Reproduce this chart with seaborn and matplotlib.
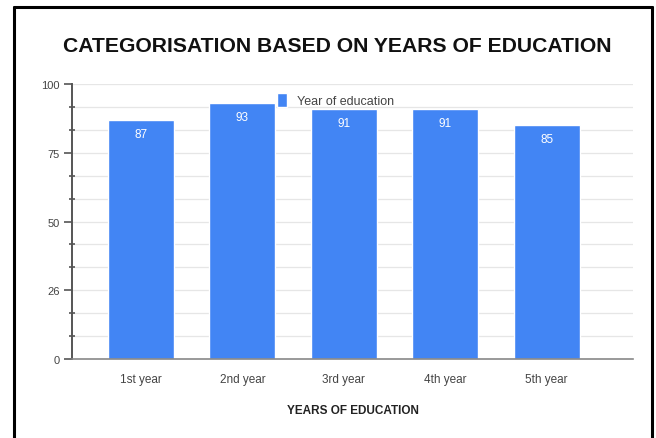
import matplotlib
matplotlib.use("Agg")
import matplotlib.pyplot as plt
from matplotlib.lines import Line2D
from matplotlib.ticker import MultipleLocator, FixedLocator
import seaborn as sns
import pandas as pd

# Chart data
years = ["1st year", "2nd year", "3rd year", "4th year", "5th year"]
counts = [87, 93, 91, 91, 85]
y_ticks = [0, 25, 50, 75, 100]
y_tick_labels = ["0", "26", "50", "75", "100"]
series_name = "Year of education"

df = pd.DataFrame({"year": years, "count": counts})

sns.set_theme(style="white")
plt.rcParams["font.family"] = ["Liberation Sans", "DejaVu Sans"]

BLUE = "#4285F4"

fig = plt.figure(figsize=(6.56, 4.39), dpi=100)
ax = fig.add_axes([0.1098, 0.180, 0.855, 0.626])

sns.barplot(data=df, x="year", y="count", color=BLUE, saturation=1,
            width=0.65, label=series_name, ax=ax)

ax.set_ylim(0, 100)
ax.set_xlim(-0.68, 4.85)

# horizontal grid: majors every 25, minors every 25/3
ax.yaxis.set_major_locator(FixedLocator(y_ticks))
ax.set_yticklabels(y_tick_labels)
ax.yaxis.set_minor_locator(MultipleLocator(25 / 3))
ax.grid(axis="y", which="both", color="#e6e6e6", linewidth=0.9)
ax.set_axisbelow(True)

for s in ["top", "right"]:
    ax.spines[s].set_visible(False)
ax.spines["left"].set_color("#555555")
ax.spines["left"].set_linewidth(1.4)
ax.spines["bottom"].set_color("#888888")
ax.spines["bottom"].set_linewidth(1.2)

ax.tick_params(axis="y", which="major", left=True, length=6, width=1.2,
               color="#555555", labelsize=8, labelcolor="#444444", pad=3)
ax.tick_params(axis="y", which="minor", left=True, length=4, width=1.2,
               color="#555555", direction="inout")
ax.tick_params(axis="x", bottom=False, labelsize=8.5, labelcolor="#444444", pad=4)

# value labels inside the bars
for i, v in enumerate(counts):
    ax.text(i, v - 5.0, str(v), ha="center", va="center",
            color="white", fontsize=8.5)

ax.set_xlabel("YEARS OF EDUCATION", fontsize=8.5, fontweight="bold",
              color="#222222", labelpad=14)
ax.set_ylabel("")

leg = ax.legend(loc="upper center", bbox_to_anchor=(0.470, 0.985), frameon=False,
                fontsize=9, handlelength=0.85, handleheight=1.3,
                handletextpad=0.8, borderaxespad=0)
for t in leg.get_texts():
    t.set_color("#444444")

fig.text(0.514, 0.893, "CATEGORISATION BASED ON YEARS OF EDUCATION",
         ha="center", va="center", fontsize=15.2, fontweight="bold",
         color="#111111")

# outer frame around the chart
W, H = 656, 439
fx = lambda px: px / W
fy = lambda py: 1 - py / H
for xs, ys in [([14, 14], [8, 445]), ([652, 652], [8, 445]), ([14, 652], [8, 8])]:
    fig.add_artist(Line2D([fx(x) for x in xs], [fy(y) for y in ys],
                          color="black", linewidth=2.2))

fig.savefig("out.png", dpi=100, facecolor="white")
